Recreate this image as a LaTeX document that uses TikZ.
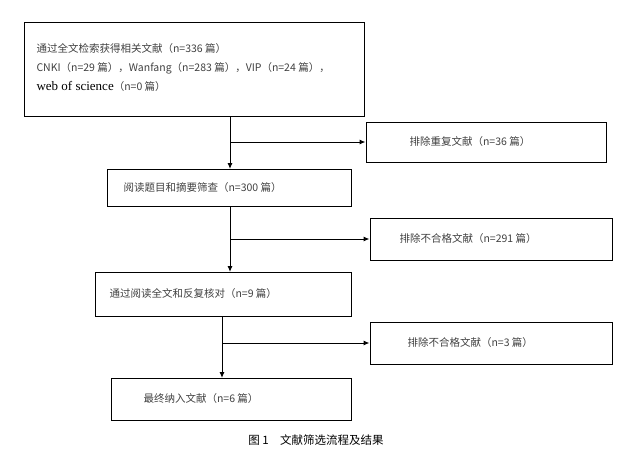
\documentclass[tikz,border=0pt]{standalone}
\usepackage{fontspec}
\setmainfont{Liberation Serif}
\newfontfamily\cjk{Noto Sans CJK SC}
\usetikzlibrary{arrows.meta}
\begin{document}
\begin{tikzpicture}[x=1pt,y=-1pt,
  bx/.style={draw,line width=1pt,inner sep=0pt},
  lbl/.style={font=\cjk\fontsize{10.5}{19}\selectfont,text=black!75,anchor=west},
  arr/.style={line width=1pt,-{Latex[length=6pt,width=5pt]}}]
\useasboundingbox (0,0) rectangle (632,464);
\node[bx,minimum width=340,minimum height=94] (b1) at (194,69) {};
\node[lbl,align=left,anchor=north west] (t1) at (33,40) {通过全文检索获得相关文献（n=336 篇）\\CNKI（n=29 篇），Wanfang（n=283 篇），VIP（n=24 篇），\\{\rmfamily\color{black}\fontsize{13}{13}\selectfont web of science}（n=0 篇）};
\node[bx,minimum width=240,minimum height=40] (e1) at (486,142) {};
\node[lbl] at (406,142) {排除重复文献（n=36 篇）};
\node[bx,minimum width=244,minimum height=37] (b2) at (229,187.5) {};
\node[lbl] at (120,187.5) {阅读题目和摘要筛查（n=300 篇）};
\node[bx,minimum width=242,minimum height=42] (e2) at (491,239) {};
\node[lbl] at (396,239) {排除不合格文献（n=291 篇）};
\node[bx,minimum width=256,minimum height=44] (b3) at (223,294) {};
\node[lbl] at (106,294) {通过阅读全文和反复核对（n=9 篇）};
\node[bx,minimum width=242,minimum height=42] (e3) at (491,343) {};
\node[lbl] at (404,343) {排除不合格文献（n=3 篇）};
\node[bx,minimum width=240,minimum height=42] (b4) at (231,399) {};
\node[lbl] at (140,399) {最终纳入文献（n=6 篇）};
\coordinate (j1) at (230,142);
\coordinate (j2) at (230,239);
\coordinate (j3) at (222,343);
\draw[line width=1pt] (230,116) -- (j1);
\draw[arr] (j1) -- (230,169);
\draw[arr] (j1) -- (e1.west);
\draw[line width=1pt] (230,206) -- (j2);
\draw[arr] (j2) -- (230,272);
\draw[arr] (j2) -- (e2.west);
\draw[line width=1pt] (222,316) -- (j3);
\draw[arr] (j3) -- (222,378);
\draw[arr] (j3) -- (e3.west);
\node[font=\cjk\fontsize{11.5}{12}\selectfont] (cap) at (316,440) {图 1\quad 文献筛选流程及结果};
\end{tikzpicture}
\end{document}
